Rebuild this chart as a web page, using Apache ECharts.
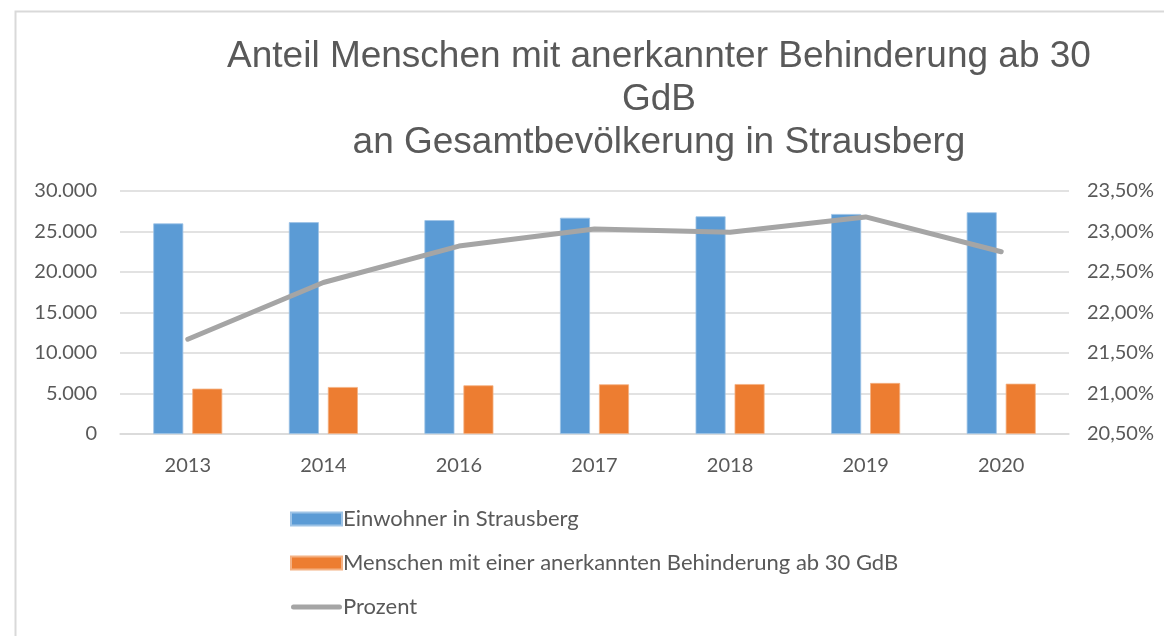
<!DOCTYPE html>
<html>
<head>
<meta charset="utf-8">
<script src="https://cdn.jsdelivr.net/npm/echarts@6/dist/echarts.min.js"></script>
<style>
html,body{margin:0;padding:0;background:#fff;}
#main{width:1164px;height:636px;}
</style>
</head>
<body>
<div id="main"></div>
<script>
const categories = ['2013', '2014', '2016', '2017', '2018', '2019', '2020'];
const einwohner = [26000, 26150, 26400, 26700, 26870, 27160, 27370];
const behinderung = [5600, 5800, 6010, 6130, 6170, 6300, 6210];
const prozent = [21.67, 22.37, 22.82, 23.03, 22.99, 23.18, 22.75];
const seriesNames = ['Einwohner in Strausberg', 'Menschen mit einer anerkannten Behinderung ab 30 GdB', 'Prozent'];
const titleText = 'Anteil Menschen mit anerkannter Behinderung ab 30\nGdB\nan Gesamtbevölkerung in Strausberg';

const chart = echarts.init(document.getElementById('main'));
const txt = '#595959';
const tickFont = 'Lato, "Open Sans", sans-serif';
chart.setOption({
  animation: false,
  backgroundColor: '#fff',
  graphic: [{
    type: 'rect', left: 13, top: 9, shape: {width: 1200, height: 700},
    style: {fill: 'none', stroke: '#d9d9d9', lineWidth: 2}, silent: true, z: -1
  }],
  title: {
    text: titleText,
    left: 654, top: 30, textAlign: 'center',
    textStyle: {fontFamily: '"Liberation Sans", Arial, sans-serif', fontSize: 37, fontWeight: 'normal', color: txt, lineHeight: 43}
  },
  legend: {
    orient: 'vertical', left: 290, top: 507, padding: 0, height: 129,
    itemWidth: 51, itemHeight: 13, itemGap: 20,
    textStyle: {fontFamily: tickFont, fontSize: 22, lineHeight: 24, color: txt, padding: [0, 0, 0, -4]},
    data: [
      {name: seriesNames[0], icon: 'rect'},
      {name: seriesNames[1], icon: 'rect'},
      {name: seriesNames[2], icon: 'path://M0,0 M2.5,4 L48.5,4 A2.5,2.5 0 0 1 48.5,9 L2.5,9 A2.5,2.5 0 0 1 2.5,4 Z M51,13'}
    ]
  },
  grid: {left: 120, right: 95, top: 191, bottom: 202},
  xAxis: {
    type: 'category', data: categories,
    axisLine: {lineStyle: {color: '#d9d9d9', width: 1.5}},
    axisTick: {show: false},
    axisLabel: {fontFamily: tickFont, fontSize: 20, color: txt, margin: 22}
  },
  yAxis: [{
    type: 'value', min: 0, max: 30000, interval: 5000,
    axisLine: {show: false}, axisTick: {show: false},
    splitLine: {lineStyle: {color: '#d9d9d9', width: 1.5}},
    axisLabel: {fontFamily: tickFont, fontSize: 20, color: txt, margin: 23,
      formatter: v => v === 0 ? '0' : v.toLocaleString('de-DE')}
  }, {
    type: 'value', min: 20.5, max: 23.5, interval: 0.5,
    axisLine: {show: false}, axisTick: {show: false}, splitLine: {show: false},
    axisLabel: {fontFamily: tickFont, fontSize: 20, color: txt, margin: 18,
      formatter: v => v.toFixed(2).replace('.', ',') + '%'}
  }],
  series: [{
    name: seriesNames[0], type: 'bar', data: einwohner, barWidth: 30, barGap: '30%',
    itemStyle: {color: '#5b9bd5', borderColor: '#9dc3e6', borderWidth: 0.8}
  }, {
    name: seriesNames[1], type: 'bar', data: behinderung, barWidth: 30,
    itemStyle: {color: '#ed7d31', borderColor: '#f4b183', borderWidth: 0.8}
  }, {
    name: seriesNames[2], type: 'line', yAxisIndex: 1, data: prozent,
    symbol: 'none', showSymbol: false,
    lineStyle: {color: '#a5a5a5', width: 5, cap: 'round', join: 'round'},
    itemStyle: {color: '#a5a5a5'}
  }]
});
</script>
</body>
</html>
